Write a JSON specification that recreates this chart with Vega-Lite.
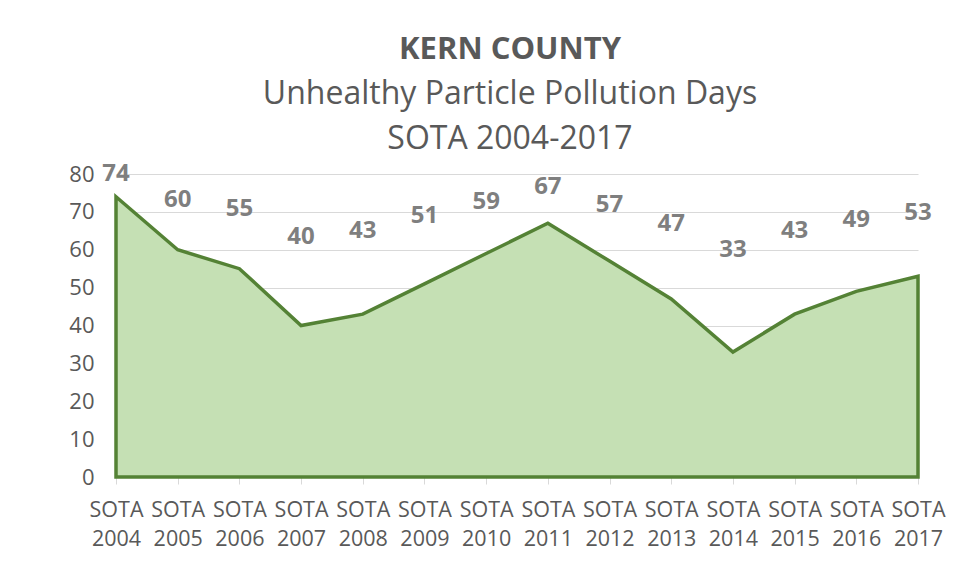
{
  "$schema": "https://vega.github.io/schema/vega-lite/v6.json",
  "autosize": {"type": "none"},
  "width": 802,
  "height": 303,
  "padding": {"left": 116, "top": 174, "right": 36, "bottom": 105},
  "background": "white",
  "config": {
    "font": "Open Sans",
    "view": {"stroke": null}
  },
  "title": {
    "text": "KERN COUNTY",
    "subtitle": ["Unhealthy Particle Pollution Days", "SOTA 2004-2017"],
    "font": "Open Sans",
    "fontSize": 31,
    "fontWeight": "bold",
    "color": "#595959",
    "subtitleFont": "Open Sans",
    "subtitleFontSize": 32,
    "subtitleColor": "#595959",
    "subtitleLineHeight": 45,
    "subtitlePadding": 13,
    "anchor": "middle",
    "frame": "group",
    "dx": -7,
    "offset": 6
  },
  "data": {
    "values": [
      {"label": "SOTA 2004", "days": 74},
      {"label": "SOTA 2005", "days": 60},
      {"label": "SOTA 2006", "days": 55},
      {"label": "SOTA 2007", "days": 40},
      {"label": "SOTA 2008", "days": 43},
      {"label": "SOTA 2009", "days": 51},
      {"label": "SOTA 2010", "days": 59},
      {"label": "SOTA 2011", "days": 67},
      {"label": "SOTA 2012", "days": 57},
      {"label": "SOTA 2013", "days": 47},
      {"label": "SOTA 2014", "days": 33},
      {"label": "SOTA 2015", "days": 43},
      {"label": "SOTA 2016", "days": 49},
      {"label": "SOTA 2017", "days": 53}
    ]
  },
  "encoding": {
    "x": {
      "field": "label",
      "type": "ordinal",
      "sort": null,
      "scale": {"type": "point", "padding": 0},
      "axis": {
        "title": null,
        "labelAngle": 0,
        "labelExpr": "split(datum.label, ' ')",
        "labelFont": "Open Sans",
        "labelFontSize": 21.5,
        "labelColor": "#595959",
        "labelLineHeight": 29,
        "labelPadding": 15,
        "domainColor": "#d9d9d9",
        "domainWidth": 1,
        "tickColor": "#d9d9d9",
        "tickSize": 7,
        "grid": false
      }
    }
  },
  "layer": [
    {
      "mark": {"type": "area", "fill": "#c5e0b4", "stroke": "#548235", "strokeWidth": 3.5, "strokeJoin": "miter"},
      "encoding": {
        "y": {
          "field": "days",
          "type": "quantitative",
          "scale": {"domain": [0, 80]},
          "axis": {
            "title": null,
            "values": [0, 10, 20, 30, 40, 50, 60, 70, 80],
            "labelFont": "Open Sans",
            "labelFontSize": 22,
            "labelColor": "#595959",
            "labelPadding": 22,
            "domain": false,
            "ticks": false,
            "grid": true,
            "gridColor": "#d9d9d9",
            "gridWidth": 1
          }
        }
      }
    },
    {
      "mark": {"type": "text", "font": "Open Sans", "fontSize": 24, "fontWeight": "bold", "color": "#7f7f7f", "baseline": "middle", "align": "center"},
      "encoding": {
        "y": {
          "field": "days",
          "type": "quantitative",
          "scale": {"domain": [-90.3, 74], "nice": false, "zero": false},
          "axis": null
        },
        "text": {"field": "days", "type": "quantitative"}
      }
    }
  ],
  "resolve": {"scale": {"y": "independent"}}
}
